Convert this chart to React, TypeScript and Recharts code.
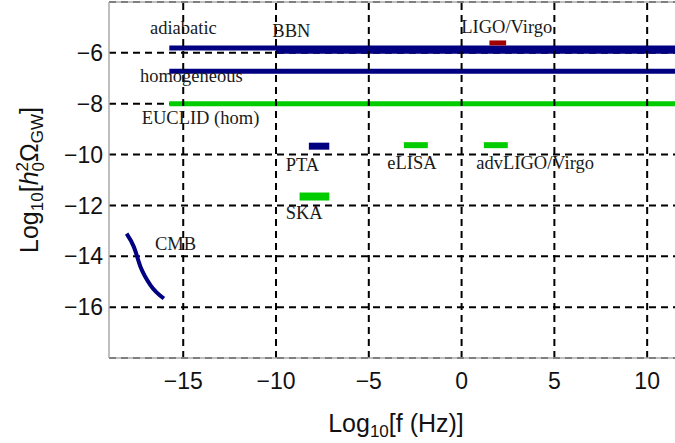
import {
  ComposedChart,
  Line,
  XAxis,
  YAxis,
  CartesianGrid,
  ReferenceLine,
  ReferenceDot,
} from "recharts";

// horizontal bands / sensitivity segments (log10 f, log10 h^2 Omega)
const segNames = ["adiabatic", "BBN", "homogeneous", "EUCLID", "LIGO", "PTA", "SKA", "eLISA", "advLIGO"];
const segStart = [-15.75, -10, -15.75, -15.75, 1.5, -8.23, -8.73, -3.11, 1.2];
const segEnd = [11.5, 11.5, 11.5, 11.5, 2.4, -7.13, -7.13, -1.82, 2.49];
const segLevel = [-5.81, -5.92, -6.72, -8.0, -5.61, -9.67, -11.65, -9.63, -9.63];

// CMB curve
const cmbX = [-18.05, -17.66, -17.3, -16.76, -16.04];
const cmbY = [-13.11, -13.63, -14.42, -15.14, -15.66];

// annotations
const labelTexts = ["adiabatic", "BBN", "homogeneous", "EUCLID (hom)", "LIGO/Virgo", "PTA", "SKA", "CMB", "eLISA", "advLIGO/Virgo"];
const labelX = [-16.79, -10.2, -17.33, -17.24, -0.02, -9.48, -9.48, -16.52, -4.0, 0.79];
const labelY = [-5.25, -5.39, -7.13, -8.79, -5.21, -10.65, -12.55, -13.76, -10.58, -10.58];

const xTicks = [-15, -10, -5, 0, 5, 10];
const yTicks = [-16, -14, -12, -10, -8, -6];

const NAVY = "#000080";
const GREEN = "#00cc00";
const RED = "#a00000";

const segStyle: Record<string, { color: string; width: number }> = {
  adiabatic: { color: NAVY, width: 5 },
  BBN: { color: NAVY, width: 6 },
  homogeneous: { color: NAVY, width: 5 },
  EUCLID: { color: GREEN, width: 5 },
  LIGO: { color: RED, width: 5 },
  PTA: { color: NAVY, width: 7 },
  SKA: { color: GREEN, width: 8 },
  eLISA: { color: GREEN, width: 6 },
  advLIGO: { color: GREEN, width: 6 },
};

const SANS = "Liberation Sans, Arial, sans-serif";
const SERIF = "Liberation Serif, Times New Roman, serif";

const fmt = (v: number) => (v < 0 ? "\u2212" + Math.abs(v) : String(v));

const XTitle = ({ viewBox }: any) => {
  const cx = viewBox.x + viewBox.width / 2 + 4;
  const y = viewBox.y + 74;
  return (
    <text x={cx} y={y} textAnchor="middle" fontSize={25} fontFamily={SANS} fill="#111">
      <tspan>Log</tspan>
      <tspan dy={5} fontSize={17}>10</tspan>
      <tspan dy={-5}>[f (Hz)]</tspan>
    </text>
  );
};

const YTitle = () => (
  <text
    x={30}
    y={188}
    transform="rotate(-90, 30, 180)"
    textAnchor="middle"
    fontSize={25}
    fontFamily={SANS}
    fill="#111"
  >
    <tspan>Log</tspan>
    <tspan dy={5} fontSize={17}>10</tspan>
    <tspan dy={-5}>[</tspan>
    <tspan fontStyle="italic">h</tspan>
    <tspan dy={-10} fontSize={17}>2</tspan>
    <tspan dx={-9.5} dy={16} fontSize={17}>0</tspan>
    <tspan dy={-6}>Ω</tspan>
    <tspan dy={5} fontSize={17}>GW</tspan>
    <tspan dy={-5}>]</tspan>
  </text>
);

export default function App() {
  const segData = segNames.map((n, i) => [
    { x: segStart[i], y: segLevel[i] },
    { x: segEnd[i], y: segLevel[i] },
  ]);
  const cmbData = cmbX.map((x, i) => ({ x, y: cmbY[i] }));

  return (
    <div style={{ position: "absolute", left: 0, top: 0, background: "#fff" }}>
      <ComposedChart
        width={675}
        height={443}
        margin={{ top: 2, right: 0, bottom: 0, left: 0 }}
      >
        {/* horizontal grid sits under the bands */}
        <CartesianGrid vertical={false} stroke="#000" strokeWidth={2} strokeDasharray="7 5" />
        <XAxis
          type="number"
          dataKey="x"
          domain={[-19, 11.5]}
          ticks={xTicks}
          allowDataOverflow
          height={85}
          tickSize={0}
          tickMargin={15}
          tickFormatter={fmt}
          tick={{ fontSize: 23, fontFamily: SANS, fill: "#111" }}
          axisLine={{ stroke: "#aaa", strokeWidth: 1.5 }}
          label={<XTitle />}
        />
        <YAxis
          type="number"
          dataKey="y"
          domain={[-18, -4]}
          ticks={yTicks}
          allowDataOverflow
          width={109}
          tickSize={0}
          tickMargin={6}
          tickFormatter={fmt}
          tick={{ fontSize: 23, fontFamily: SANS, fill: "#111" }}
          axisLine={{ stroke: "#aaa", strokeWidth: 1.5 }}
          label={<YTitle />}
        />

        {segNames.map((n, i) => (
          <Line
            key={n}
            data={segData[i]}
            dataKey="y"
            stroke={segStyle[n].color}
            strokeWidth={segStyle[n].width}
            strokeLinecap="butt"
            dot={false}
            isAnimationActive={false}
          />
        ))}
        <Line
          data={cmbData}
          dataKey="y"
          type="monotone"
          stroke={NAVY}
          strokeWidth={4}
          dot={false}
          isAnimationActive={false}
        />

        <ReferenceLine y={-4} stroke="#aaa" strokeWidth={1.5} />
        {xTicks.map((t) => (
          <ReferenceLine key={"vx" + t} x={t} stroke="#000" strokeWidth={2} strokeDasharray="7 5" />
        ))}

        {labelTexts.map((t, i) => (
          <ReferenceDot
            key={t}
            x={labelX[i]}
            y={labelY[i]}
            r={0}
            shape={(p: any) => (
              <text x={p.cx} y={p.cy} fontSize={18.5} fontFamily={SERIF} fill="#1a1a1a">
                {t}
              </text>
            )}
          />
        ))}
      </ComposedChart>
    </div>
  );
}
